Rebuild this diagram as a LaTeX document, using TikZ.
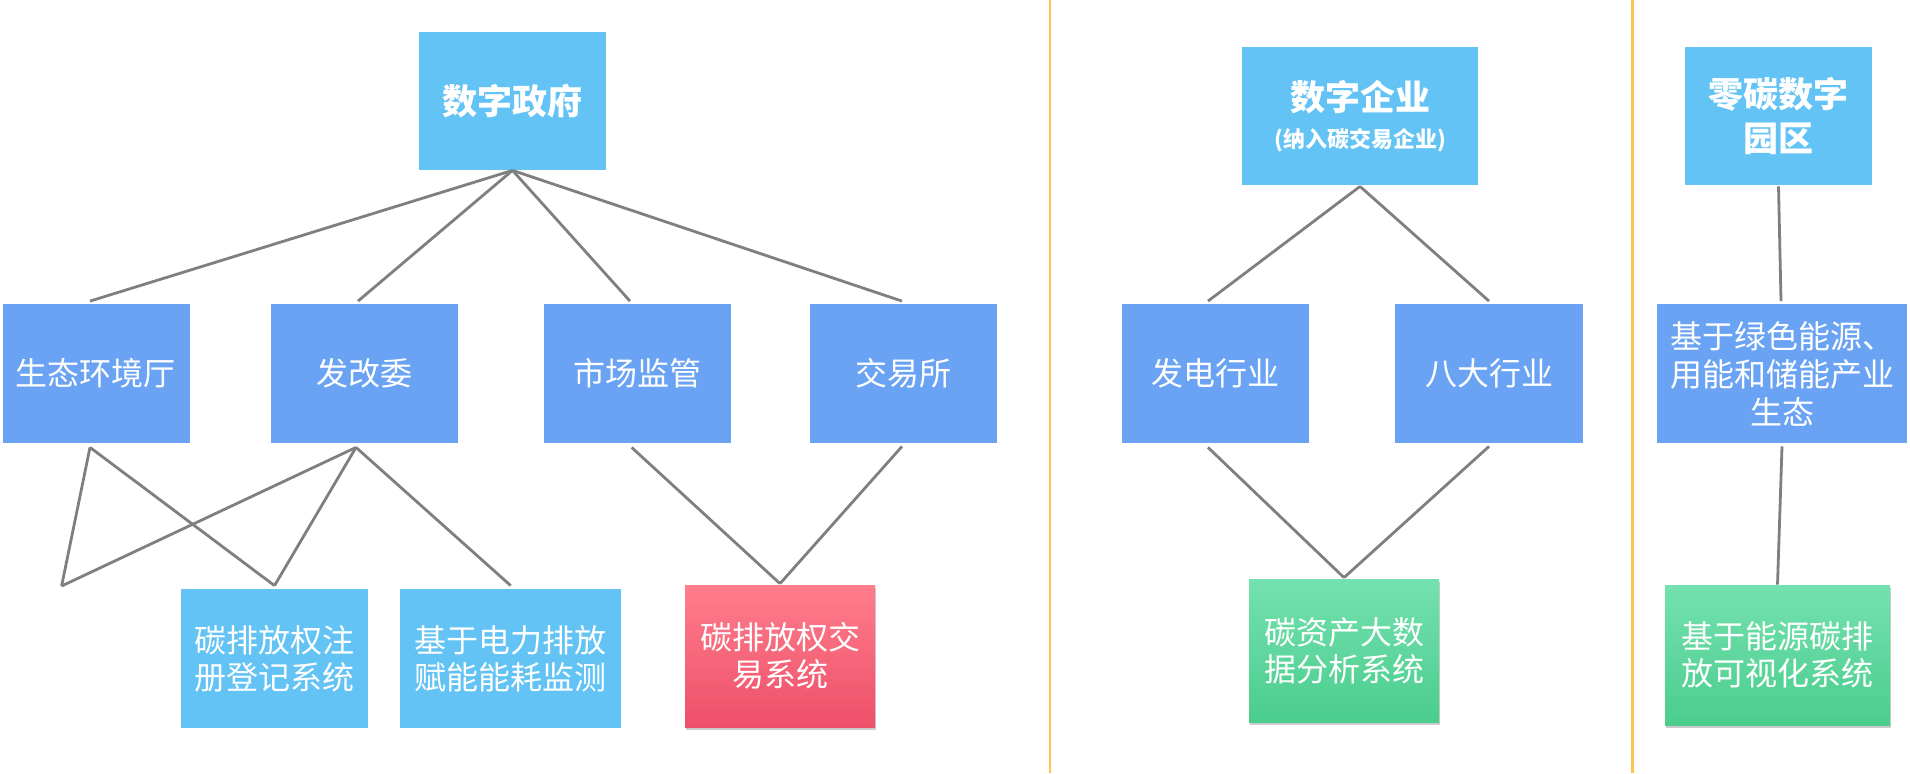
\documentclass[tikz,border=0pt]{standalone}
\usepackage{fontspec}
\setmainfont{Noto Sans CJK SC}
\usetikzlibrary{shadows}
\definecolor{lblue}{HTML}{63C3F5}
\definecolor{mblue}{HTML}{6AA3F3}
\definecolor{pinkT}{HTML}{FF7D8C}
\definecolor{pinkB}{HTML}{EE5069}
\definecolor{greenT}{HTML}{74E1AF}
\definecolor{greenB}{HTML}{4BCD8D}
\definecolor{linegray}{HTML}{7F7F7F}
\definecolor{sepor}{HTML}{FFC352}
\tikzset{
  box/.style={rectangle, inner sep=0pt, align=center, text=white,
    font=\fontsize{16}{18.5}\selectfont},
  lb/.style={box, fill=lblue},
  mb/.style={box, fill=mblue},
  titlefont/.style={font=\fontsize{17.5}{22}\selectfont\bfseries},
  pinkbox/.style={box, top color=pinkT, bottom color=pinkB,
    drop shadow={shadow xshift=0.5pt, shadow yshift=-1.5pt, opacity=0.2, fill=black}},
  greenbox/.style={box, top color=greenT, bottom color=greenB,
    drop shadow={shadow xshift=0.5pt, shadow yshift=-1.5pt, opacity=0.2, fill=black}},
  link/.style={draw=linegray, line width=1.4pt},
  sepline/.style={draw=sepor, line width=1.3pt}
}
\begin{document}
\begin{tikzpicture}[x=0.5pt, y=-0.5pt]
\useasboundingbox (0,0) rectangle (1910,773);

% separators
\draw[sepline] (1050,0) -- (1050,773);
\draw[sepline] (1632.5,0) -- (1632.5,773);

% ---------- left panel ----------
\node[lb, titlefont, minimum width=93.5pt, minimum height=69pt] (gov) at (512.5,101) {数字政府};

\node[mb, minimum width=93.5pt, minimum height=69.5pt] (eco)  at (96,373.5)  {生态环境厅};
\node[mb, minimum width=93.5pt, minimum height=69.5pt] (ndrc) at (364.5,373.5) {发改委};
\node[mb, minimum width=93.5pt, minimum height=69.5pt] (mkt)  at (637.8,373.5) {市场监管};
\node[mb, minimum width=93.5pt, minimum height=69.5pt] (exch) at (903,373.5) {交易所};

\node[lb, minimum width=93.5pt, minimum height=69.5pt] (reg) at (274.5,658.5) {碳排放权注\\册登记系统};
\node[lb, minimum width=110.75pt, minimum height=69.5pt] (elec) at (510.7,658.5) {基于电力排放\\赋能能耗监测};
\node[pinkbox, minimum width=95pt, minimum height=71pt] (trade) at (780,656) {碳排放权交\\易系统};

\coordinate (free) at (61.6,586);

\draw[link] (gov.south) -- ([xshift=-3pt,yshift=1.25pt]eco.north);
\draw[link] (gov.south) -- ([xshift=-3.25pt,yshift=1.25pt]ndrc.north);
\draw[link] (gov.south) -- ([xshift=-3.9pt,yshift=1.25pt]mkt.north);
\draw[link] (gov.south) -- ([xshift=-0.5pt,yshift=1.25pt]exch.north);

\draw[link] ([xshift=-3pt,yshift=-2pt]eco.south) -- (free);
\draw[link] ([xshift=-3pt,yshift=-2pt]eco.south) -- ([yshift=1.5pt]reg.north);
\draw[link] ([xshift=-4.25pt,yshift=-2pt]ndrc.south) -- (free);
\draw[link] ([xshift=-4.25pt,yshift=-2pt]ndrc.south) -- ([yshift=1.5pt]reg.north);
\draw[link] ([xshift=-4.25pt,yshift=-2pt]ndrc.south) -- ([yshift=1.5pt]elec.north);

\draw[link] ([xshift=-3.1pt,yshift=-2pt]mkt.south) -- ([yshift=0.5pt]trade.north);
\draw[link] ([xshift=-0.5pt,yshift=-1.5pt]exch.south) -- ([yshift=0.5pt]trade.north);

% ---------- middle panel ----------
\node[lb, minimum width=118pt, minimum height=69pt, align=center] (ent) at (1360,116)
  {{\fontsize{17.5}{18}\selectfont\bfseries 数字企业}\\{\fontsize{11}{17}\selectfont\bfseries (纳入碳交易企业)}};

\node[mb, minimum width=93.5pt, minimum height=69.5pt] (gen)   at (1215,373.5) {发电行业};
\node[mb, minimum width=94pt, minimum height=69.5pt]   (eight) at (1489,373.5) {八大行业};

\node[greenbox, minimum width=95pt, minimum height=71.5pt] (cad) at (1344,650.5) {碳资产大数\\据分析系统};

\draw[link] ([yshift=-0.5pt]ent.south) -- ([xshift=-3.5pt,yshift=1.25pt]gen.north);
\draw[link] ([yshift=-0.5pt]ent.south) -- ([yshift=1.25pt]eight.north);
\draw[link] ([xshift=-3.5pt,yshift=-2pt]gen.south) -- ([yshift=0.5pt]cad.north);
\draw[link] ([yshift=-1.5pt]eight.south) -- ([yshift=0.5pt]cad.north);

% ---------- right panel ----------
\node[lb, titlefont, minimum width=93.5pt, minimum height=69pt] (park) at (1778.5,116) {零碳数字\\园区};
\node[mb, minimum width=125pt, minimum height=69.5pt, font=\fontsize{16}{19}\selectfont] (green) at (1782,373.5) {基于绿色能源、\\用能和储能产业\\生态};
\node[greenbox, minimum width=112.5pt, minimum height=70pt] (vis) at (1777.5,655) {基于能源碳排\\放可视化系统};

\draw[link] ([yshift=-0.5pt]park.south) -- ([xshift=-0.5pt,yshift=1.25pt]green.north);
\draw[link] ([yshift=-1.5pt]green.south) -- ([yshift=0pt]vis.north);
\end{tikzpicture}
\end{document}
